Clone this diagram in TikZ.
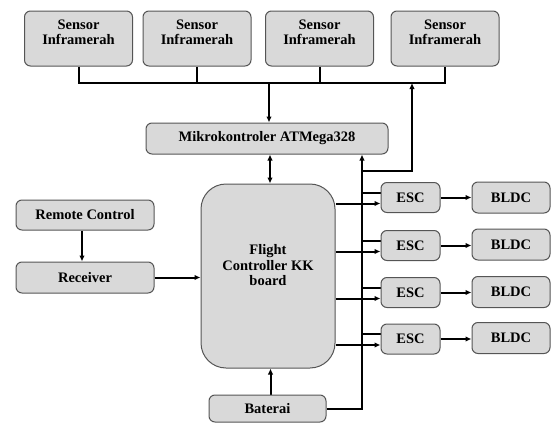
\documentclass[tikz,border=0pt]{standalone}
\usepackage{fontspec}
\setmainfont{Liberation Serif}
\usetikzlibrary{arrows.meta,backgrounds}
\definecolor{boxfill}{HTML}{D9D9D9}
\definecolor{boxline}{HTML}{555555}
\tikzset{
  blk/.style={draw=boxline, line width=1pt, fill=boxfill, rounded corners=6pt,
    inner sep=0pt, align=center, font=\fontsize{14.5}{15.5}\selectfont\bfseries},
  conn/.style={line width=2pt, black},
  arr/.style={conn, -{Latex[length=6pt,width=5.5pt]}},
  darr/.style={conn, {Latex[length=6pt,width=5.5pt]}-{Latex[length=6pt,width=5.5pt]}}
}
\begin{document}
\begin{tikzpicture}[x=1pt,y=-1pt]
\useasboundingbox (0,0) rectangle (552,423);
% sensors
\foreach \n/\x in {1/78.5,2/197,3/319.5,4/445}{
  \node[blk, minimum width=108pt, minimum height=55pt] (s\n) at (\x,38.5) {Sensor\\Inframerah\\[-3pt]};
}
\node[blk, minimum width=242pt, minimum height=31pt] (mk) at (267,138.5) {Mikrokontroler ATMega328};
\node[blk, rounded corners=25pt, minimum width=134pt, minimum height=184pt] (fc) at (268,276) {Flight\\Controller KK\\board\\[6pt]};
\node[blk, minimum width=138pt, minimum height=30pt] (rc) at (85,215) {Remote Control};
\node[blk, minimum width=138pt, minimum height=31pt] (rx) at (85,277.5) {Receiver};
\node[blk, minimum width=117pt, minimum height=27pt] (bat) at (267.5,408.5) {Baterai};
\foreach \n/\y/\yb in {1/197.5/197.5,2/245.5/244.5,3/292.5/292,4/339/338}{
  \node[blk, minimum width=59pt, minimum height=30pt] (e\n) at (410.5,\y) {ESC};
  \node[blk, minimum width=78pt, minimum height=31pt] (b\n) at (511,\yb) {BLDC};
}
\coordinate (bus) at (0,83);
\coordinate (pwx) at (362,0);
\coordinate (jn) at (362,171);
\coordinate (up) at (412,83);
\begin{scope}[on background layer]
  % sensor bus
  \draw[conn] (s1.south) |- (s4.south |- bus) -- (s4.south);
  \draw[conn] (s2.south) -- (s2.south |- bus);
  \draw[conn] (s3.south) -- (s3.south |- bus);
  \draw[arr] ([xshift=2pt]mk.north |- bus) -- ([xshift=2pt]mk.north);
  \draw[darr] ([xshift=3pt]mk.south) -- ([xshift=3pt]mk.south |- fc.north);
  % power line
  \draw[arr] (bat.east) -| (mk.south -| pwx);
  \draw[arr] (jn) -| (up);
  % remote / receiver
  \draw[arr] ([xshift=-3pt]rc.south) -- ([xshift=-3pt]rc.south |- rx.north);
  \draw[arr] (rx.east) -- (fc.west |- rx.east);
  \draw[arr] ([xshift=3pt]bat.north) -- ([xshift=3pt]bat.north |- fc.south);
  \foreach \n in {1,2,3,4}{
    \coordinate (st\n) at ([yshift=5pt]e\n.west);
    \coordinate (ai\n) at ([yshift=-6pt]e\n.west);
    \draw[conn] (pwx |- st\n) -- (st\n);
    \draw[arr] (fc.east |- ai\n) -- (ai\n);
    \draw[arr] (e\n.east) -- (b\n.west |- e\n.east);
  }
\end{scope}
\end{tikzpicture}
\end{document}
